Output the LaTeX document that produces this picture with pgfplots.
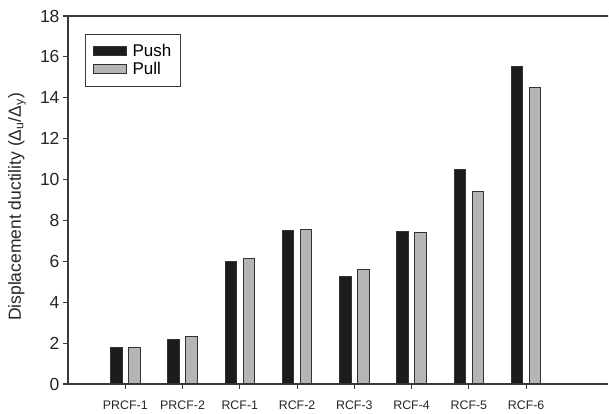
\documentclass[border=0pt]{standalone}
\usepackage{fontspec}
\setmainfont{Liberation Sans}
\usepackage{pgfplots}
\pgfplotsset{compat=1.18}

\definecolor{pushfill}{HTML}{1C1C1C}
\definecolor{pullfill}{HTML}{B5B5B7}
\definecolor{edgecol}{HTML}{333333}
\definecolor{axiscol}{HTML}{3A3A3A}

\begin{document}
\begin{tikzpicture}
\begin{axis}[
  scale only axis,
  width=540pt, height=368pt,
  xmin=-1, xmax=8.43,
  ymin=0, ymax=18,
  ytick={0,2,...,18},
  xtick={0,...,7},
  xticklabels={PRCF-1,PRCF-2,RCF-1,RCF-2,RCF-3,RCF-4,RCF-5,RCF-6},
  axis lines*=left,
  tick align=outside,
  major tick length=5pt,
  axis line style={draw=axiscol, line width=1.2pt, -},
  every tick/.style={draw=axiscol, line width=1.1pt},
  /pgf/number format/assume math mode=true,
  yticklabel style={font=\fontsize{17.5}{20}\selectfont, text=black!85},
  xticklabel style={font=\fontsize{12.4}{14}\selectfont, text=black!85, yshift=-8pt},
  ylabel={Displacement ductility (Δ\textsubscript{u}/Δ\textsubscript{y})},
  ylabel style={font=\fontsize{17.5}{20}\selectfont, text=black!85,
    at={(axis description cs:-0.0944,0.481)}, anchor=center},
  ybar=6.5pt,
  bar width=11.5pt,
  legend style={
    at={(axis description cs:0,1)}, anchor=north west,
    xshift=17pt, yshift=-18pt,
    draw=axiscol, line width=1.1pt,
    font=\fontsize{17}{19}\selectfont,
    inner xsep=7pt, inner ysep=8pt,
    row sep=0pt,
    column sep=4pt,
    cells={anchor=west},
  },
  legend cell align=left,
  area legend,
  legend image code/.code={%
    \draw[#1, line width=1pt] (0pt,-4.5pt) rectangle (33pt,4.5pt);},
]
\addplot[fill=pushfill, draw=edgecol, line width=1pt] coordinates {
  (0,1.80) (1,2.19) (2,5.98) (3,7.50) (4,5.28) (5,7.45) (6,10.50) (7,15.52)};
\addplot[fill=pullfill, draw=edgecol, line width=1pt] coordinates {
  (0,1.80) (1,2.33) (2,6.15) (3,7.58) (4,5.58) (5,7.43) (6,9.41) (7,14.48)};
\legend{Push\hspace{14pt},Pull}
% top frame line
\draw[axiscol, line width=1.2pt] (rel axis cs:0,1) -- (rel axis cs:1.01,1);
\end{axis}
\pgfresetboundingbox
\path (current axis.south west) ++(-68pt,-30pt) coordinate (bbA);
\path (current axis.north east) ++(1pt,16pt) coordinate (bbB);
\path[use as bounding box] (bbA) rectangle (bbB);
\end{tikzpicture}
\end{document}
